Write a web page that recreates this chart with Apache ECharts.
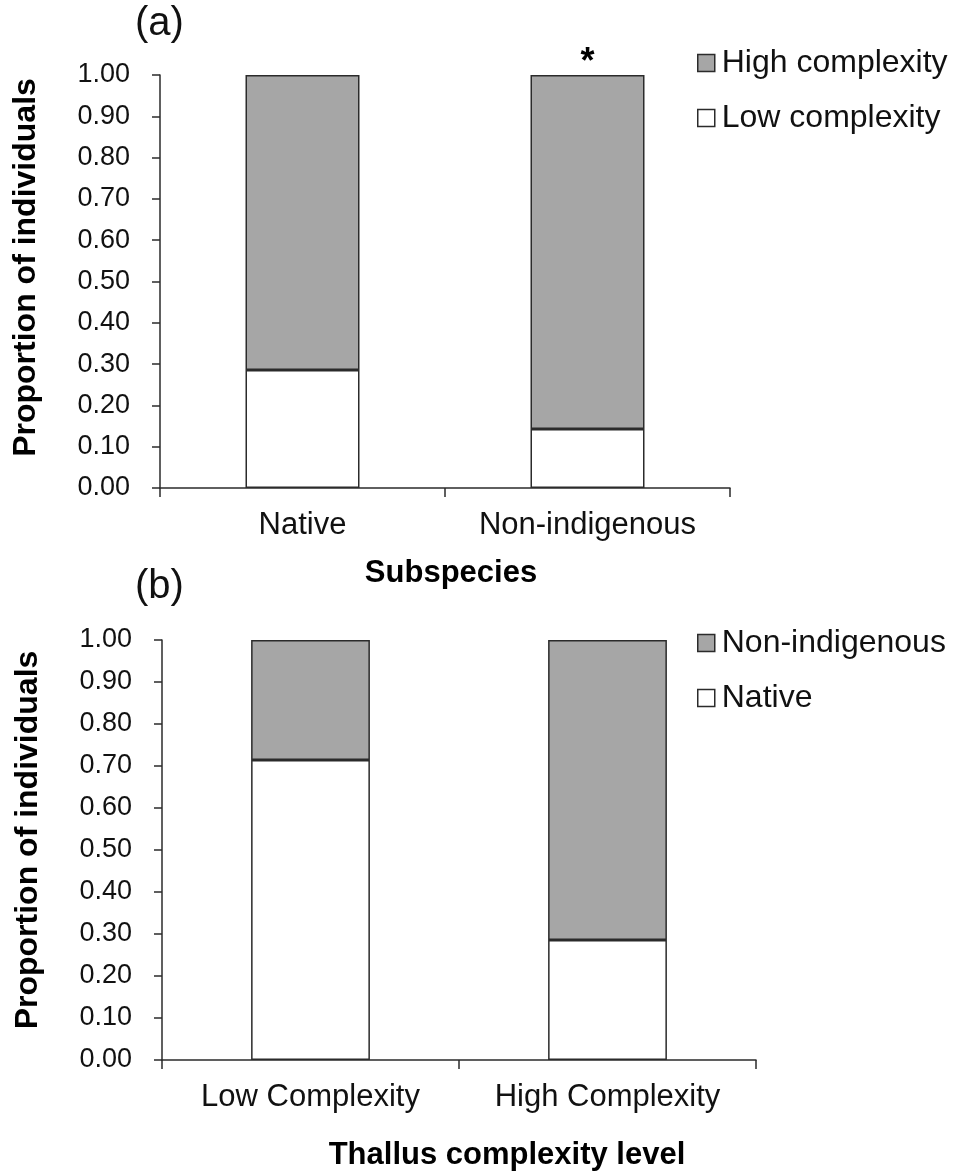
<!DOCTYPE html>
<html>
<head>
<meta charset="utf-8">
<script src="https://cdn.jsdelivr.net/npm/echarts@6/dist/echarts.min.js"></script>
<style>
html,body{margin:0;padding:0;background:#fff;}
#chart{width:954px;height:1174px;}
</style>
</head>
<body>
<div id="chart"></div>
<script>
// Panel (a)
var catsA = ['Native', 'Non-indigenous'];
var lowComplexityA = [0.286, 0.143];
var highComplexityA = [0.714, 0.857];
// Panel (b)
var catsB = ['Low Complexity', 'High Complexity'];
var nativeB = [0.714, 0.286];
var nonIndigenousB = [0.286, 0.714];
var yTicks = [0, 0.1, 0.2, 0.3, 0.4, 0.5, 0.6, 0.7, 0.8, 0.9, 1.0];

var FONT = "'Liberation Sans', Arial, sans-serif";
var GRAY = '#a6a6a6';
var LINE = '#2b2b2b';

function yAxis(idx, shiftPad) {
  return {
    type: 'value', gridIndex: idx, min: 0, max: 1, interval: 0.1,
    name: 'Proportion of individuals', nameLocation: 'middle', nameGap: 118,
    nameTextStyle: { fontFamily: FONT, fontSize: 32, fontWeight: 'bold', color: '#000',
      padding: [0, 0, 0, shiftPad] },
    axisLine: { show: true, lineStyle: { color: LINE, width: 1.5 } },
    axisTick: { show: true, inside: false, length: 8, lineStyle: { color: LINE, width: 1.5 } },
    axisLabel: { margin: 30, fontFamily: FONT, fontSize: 27, color: '#111',
      formatter: function (v) { return v.toFixed(2); } },
    splitLine: { show: false }
  };
}
function xAxis(idx, cats, name, gap, shiftPad) {
  return {
    type: 'category', gridIndex: idx, data: cats,
    name: name, nameLocation: 'middle', nameGap: gap,
    nameTextStyle: { fontFamily: FONT, fontSize: 31, fontWeight: 'bold', color: '#000',
      padding: [0, 0, 0, shiftPad] },
    axisLine: { show: true, lineStyle: { color: LINE, width: 1.5 } },
    axisTick: { show: true, length: 9, alignWithLabel: false, lineStyle: { color: LINE, width: 1.5 } },
    axisLabel: { margin: 22, fontFamily: FONT, fontSize: 31, color: '#111' }
  };
}
function barStyle(color) {
  return { color: color, borderColor: LINE, borderWidth: 1.5 };
}
function legend(top, names) {
  return { orient: 'vertical', left: 697, top: top, padding: 0,
    itemWidth: 17, itemHeight: 17, itemGap: 23,
    icon: 'rect', selectedMode: false,
    itemStyle: { borderColor: LINE, borderWidth: 1.5 },
    textStyle: { fontFamily: FONT, fontSize: 32, color: '#111', padding: [0, 0, 0, 2] },
    data: names };
}

var chart = echarts.init(document.getElementById('chart'), null, { renderer: 'canvas' });
chart.setOption({
  backgroundColor: '#fff',
  animation: false,
  grid: [
    { left: 160, top: 75, width: 570, height: 413 },
    { left: 162, top: 640, width: 594, height: 420 }
  ],
  xAxis: [xAxis(0, catsA, 'Subspecies', 70, 12), xAxis(1, catsB, 'Thallus complexity level', 80, 96)],
  yAxis: [yAxis(0, 28), yAxis(1, 20)],
  legend: [
    legend(47, ['High complexity', 'Low complexity']),
    legend(627, ['Non-indigenous', 'Native'])
  ],
  graphic: [
    { type: 'text', left: 135, top: 4, style: { text: '(a)', fontFamily: FONT, fontSize: 40, fill: '#111' } },
    { type: 'text', left: 135, top: 567, style: { text: '(b)', fontFamily: FONT, fontSize: 40, fill: '#111' } }
  ],
  series: [
    { name: 'Low complexity', type: 'bar', stack: 'a', xAxisIndex: 0, yAxisIndex: 0,
      barWidth: '40%', itemStyle: barStyle('#ffffff'), data: lowComplexityA },
    { name: 'High complexity', type: 'bar', stack: 'a', xAxisIndex: 0, yAxisIndex: 0,
      barWidth: '40%', itemStyle: barStyle(GRAY),
      data: highComplexityA.map(function (v, i) {
        return i === 1 ? { value: v, label: { show: true, position: 'top', distance: 0, offset: [0, 6],
          formatter: '*', fontFamily: FONT, fontSize: 36, fontWeight: 'bold', color: '#000' } } : v;
      }) },
    { name: 'Native', type: 'bar', stack: 'b', xAxisIndex: 1, yAxisIndex: 1,
      barWidth: '40%', itemStyle: barStyle('#ffffff'), data: nativeB },
    { name: 'Non-indigenous', type: 'bar', stack: 'b', xAxisIndex: 1, yAxisIndex: 1,
      barWidth: '40%', itemStyle: barStyle(GRAY), data: nonIndigenousB }
  ]
});
</script>
</body>
</html>
